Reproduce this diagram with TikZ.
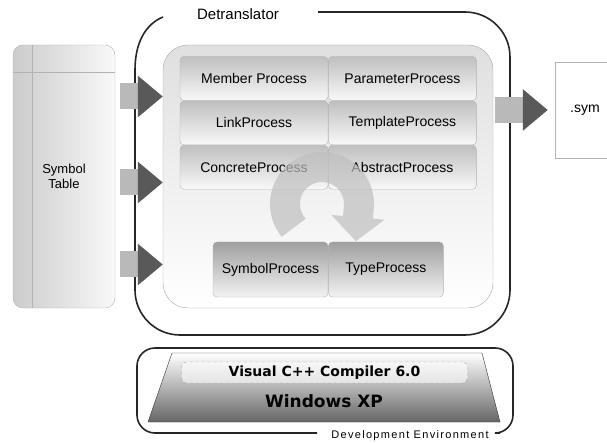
\documentclass[tikz,border=0pt]{standalone}
\usepackage{fontspec}
\setmainfont{Liberation Sans}
\newfontfamily\dejavu{DejaVu Sans}
\usepackage{tikz}
\usetikzlibrary{arrows.meta,positioning,shapes.geometric,calc}

\begin{document}
\begin{tikzpicture}[
  x=1pt, y=1pt,
  node distance=0pt,
  txt/.style={font=\fontsize{14}{16}\selectfont},
  proc/.style={rectangle, draw=gray!60, rounded corners=4pt, top color=gray!50, bottom color=gray!5, minimum width=148pt, minimum height=44pt, inner sep=1pt, txt},
  lowproc/.style={proc, top color=gray!75, bottom color=gray!10, minimum width=115pt, minimum height=55pt},
  frame/.style={draw=black!85, line width=1.6pt},
  blockarrow/.style={line width=26pt, draw=gray!55, -{Triangle[width=40pt,length=25pt,color=black!65]}}
]
\useasboundingbox (0,0) rectangle (607,-443);

% symbol table
\node[draw=gray!60, rounded corners=10pt, left color=gray!40, right color=gray!5, minimum width=102pt, minimum height=263pt, align=center, font=\fontsize{13}{15}\selectfont] (symtab) at (64,-176.5) {Symbol\\Table};
\draw[gray!60] ($(symtab.north west)+(0,-27)$) -- ($(symtab.north east)+(0,-27)$);
\draw[gray!60] ($(symtab.north west)+(19,0)$) -- ($(symtab.south west)+(19,0)$);

% detranslator
\draw[frame] (163,-17) .. controls (146,-24) and (135,-42) .. (135,-70);
\draw[frame, rounded corners=45pt] (135,-69) -- (135,-335) -- (510,-335) -- (510,-12) -- (318,-12);
\node[font=\fontsize{15}{17}\selectfont] (detr) at (238,-14) {Detranslator};
\node[draw=gray!70, rounded corners=25pt, top color=gray!25, bottom color=white, minimum width=330pt, minimum height=263pt] (inner) at (328,-176.5) {};

\node[proc] (member) at (254,-78.5) {Member Process};
\node[proc, right=of member] (param) {ParameterProcess};
\node[proc, below=of member] (link) {LinkProcess};
\node[proc, below=of param] (template) {TemplateProcess};
\node[proc, below=of link] (concrete) {ConcreteProcess};
\node[proc, below=of template] (abstract) {AbstractProcess};
\node[lowproc] (symproc) at (270.5,-269.5) {SymbolProcess};
\node[lowproc, right=of symproc] (typeproc) {TypeProcess};

% cycle
\coordinate (cyc) at (322,-204);
\begin{scope}[transparency group, opacity=.7]
\draw[line width=30pt, gray!50, -{Triangle[width=52pt,length=24pt]}] ($(cyc)+(220:37pt)$) arc[start angle=220, end angle=-5, radius=37pt] -- ++(-3,-34);
\end{scope}

\draw[blockarrow] ($(symtab.east)+(5,80)$) -- ($(inner.west)+(0,80)$);
\draw[blockarrow] ($(symtab.east)+(5,-6)$) -- ($(inner.west)+(0,-6)$);
\draw[blockarrow] ($(symtab.east)+(5,-88)$) -- ($(inner.west)+(0,-88)$);

% output
\node[draw=gray!60, fill=white, minimum width=60pt, minimum height=96pt, txt] (sym) at (585,-110) {.sym};
\draw[blockarrow] ($(inner.east |- sym)+(2,0)$) -- ($(sym.west)+(-7,0)$);

% development environment
\draw[frame, rounded corners=18pt] (317,-433) -- (137,-433) -- (137,-348) -- (513,-348) -- (513,-433) -- (500,-433);
\node[font=\fontsize{11}{13}\selectfont\addfontfeature{LetterSpace=12}] (devenv) at (410,-436) {Development Environment};
\shade[draw=black!80, top color=white, bottom color=black!60] (148,-422) -- (172,-353) -- (482,-353) -- (500,-422) -- cycle;
\node[draw=gray!70, dashed, rounded corners=5pt, fill=white, fill opacity=.6, text opacity=1, minimum width=286pt, minimum height=21pt, inner sep=0pt, font=\dejavu\bfseries\fontsize{14}{16}\selectfont] (compiler) at (324.5,-372.5) {Visual C++ Compiler 6.0};
\node[font=\dejavu\bfseries\fontsize{17}{19}\selectfont] (winxp) at (324,-401) {Windows XP};
\end{tikzpicture}
\end{document}
